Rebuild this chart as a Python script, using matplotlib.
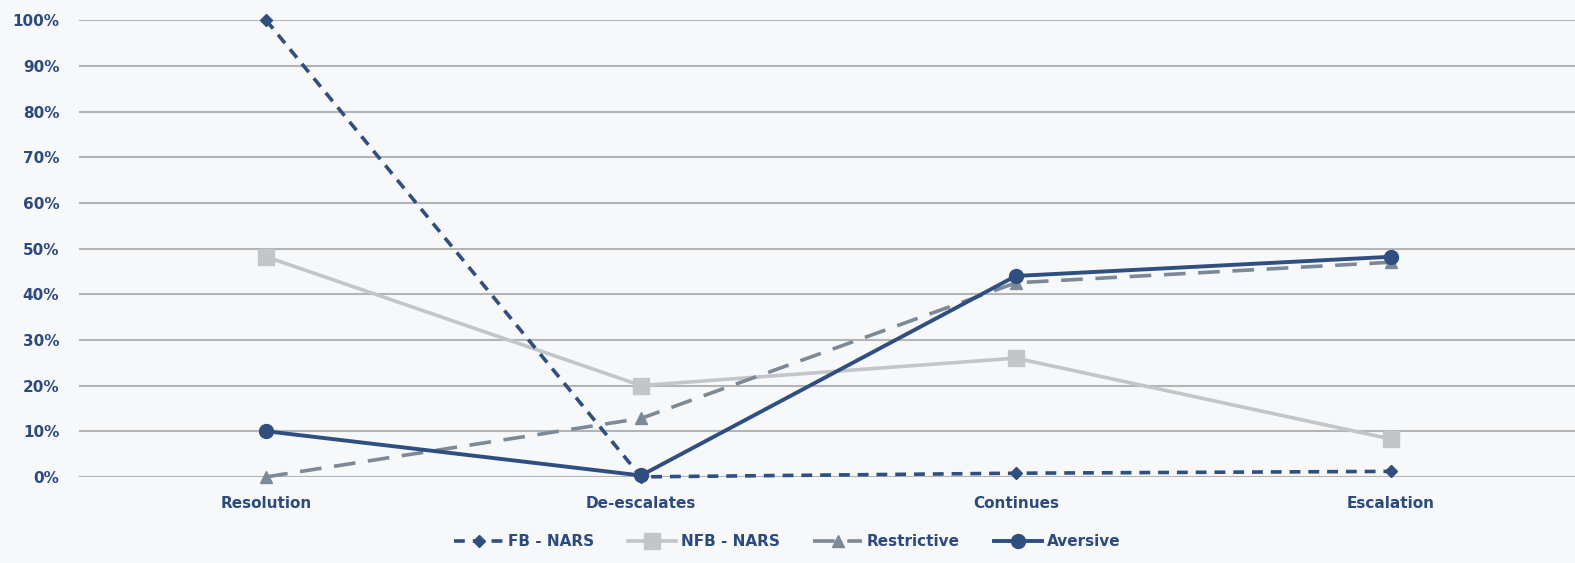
import numpy as np
import matplotlib.pyplot as plt
from matplotlib.ticker import PercentFormatter

categories = ["Resolution", "De-escalates", "Continues", "Escalation"]
fb_nars = [100, 0, 0.8, 1.2]
nfb_nars = [48.2, 20, 26, 8.3]
restrictive = [0, 12.8, 42.5, 47]
aversive = [10, 0.3, 44, 48.2]

navy = "#2f4f80"
txt = "#2b4a82"
x = np.arange(len(categories))

fig = plt.figure(figsize=(15.75, 5.63), dpi=100)
fig.patch.set_facecolor("#f7f8f9")
ax = fig.add_axes([0.05, 0.153, 0.952, 0.811])
ax.set_facecolor("none")

ax.plot(x, fb_nars, color=navy, lw=2.6, ls=(0, (3, 2.2)), marker="D", ms=6,
        label="FB - NARS", zorder=3)
ax.plot(x, nfb_nars, color="#c3c5c8", lw=2.6, marker="s", ms=11,
        label="NFB - NARS", zorder=2)
ax.plot(x, restrictive, color="#7c8996", lw=2.6, ls=(0, (6, 3.5)), marker="^", ms=9,
        label="Restrictive", zorder=2)
ax.plot(x, aversive, color=navy, lw=2.8, marker="o", ms=10,
        label="Aversive", zorder=4)

ax.set_xlim(-0.5, 3.5)
ax.set_ylim(0, 100)
ax.set_yticks(np.arange(0, 101, 10))
ax.yaxis.set_major_formatter(PercentFormatter(decimals=0))
ax.set_xticks(x)
ax.set_xticklabels(categories)
ax.grid(axis="y", color="#b4b4b4", lw=1.5)
ax.set_axisbelow(True)
ax.tick_params(length=0, labelsize=11, labelcolor=txt)
ax.tick_params(axis="x", pad=14)
ax.tick_params(axis="y", pad=14)
for lab in ax.get_xticklabels() + ax.get_yticklabels():
    lab.set_fontweight("bold")
for s in ax.spines.values():
    s.set_visible(False)
for line in ax.get_lines():
    line.set_clip_on(False)

leg = fig.legend(loc="lower center", bbox_to_anchor=(0.5, 0.0), ncol=4,
                 frameon=False, fontsize=11, handlelength=3.2,
                 columnspacing=2.2, handletextpad=0.3)
for t in leg.get_texts():
    t.set_color(txt)
    t.set_fontweight("bold")

fig.savefig("out.png", dpi=100, facecolor=fig.get_facecolor())
